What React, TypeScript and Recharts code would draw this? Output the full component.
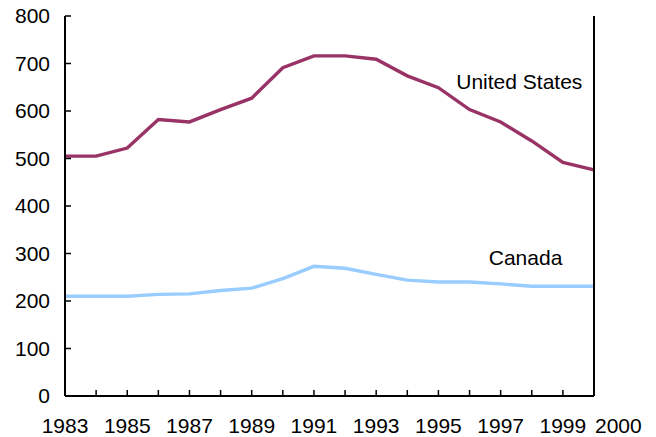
import React from 'react';
import { LineChart, Line, XAxis, YAxis, ReferenceDot } from 'recharts';

const years = [1983, 1984, 1985, 1986, 1987, 1988, 1989, 1990, 1991, 1992, 1993, 1994, 1995, 1996, 1997, 1998, 1999, 2000];
const unitedStates = [505, 505, 522, 582, 577, 603, 627, 691, 716, 716, 709, 674, 649, 603, 577, 537, 492, 476];
const canada = [210, 210, 210, 214, 215, 222, 227, 247, 273, 269, 256, 244, 240, 240, 236, 231, 231, 231];
const xLabelYears = [1983, 1985, 1987, 1989, 1991, 1993, 1995, 1997, 1999, 2000];
const yTicks = [0, 100, 200, 300, 400, 500, 600, 700, 800];

const data = years.map((y, i) => ({ year: y, us: unitedStates[i], ca: canada[i] }));

const FONT = '"Liberation Sans", Arial, Helvetica, sans-serif';
const TICK_LEN = 6;
const X_MARGIN = 22;
const Y_MARGIN = 15;

const XTick = (props: any) => {
  const { x, y, payload } = props;
  const axisY = y - X_MARGIN;
  const show = xLabelYears.includes(payload.value);
  const isLast = payload.value === 2000;
  return (
    <g>
      <line x1={x} x2={x} y1={axisY} y2={axisY - TICK_LEN} stroke="#000" strokeWidth={1.5} />
      {show && (
        <text
          x={isLast ? x + 1 : x}
          y={y}
          dy="0.71em"
          textAnchor={isLast ? 'start' : 'middle'}
          fontSize={21}
          fontFamily={FONT}
          fill="#000"
        >
          {payload.value}
        </text>
      )}
    </g>
  );
};

const YTickLeft = (props: any) => {
  const { x, y, payload } = props;
  const axisX = x + Y_MARGIN;
  return (
    <g>
      <line x1={axisX} x2={axisX + TICK_LEN} y1={y} y2={y} stroke="#000" strokeWidth={1.5} />
      <text x={x} y={y} dy="0.355em" textAnchor="end" fontSize={21} fontFamily={FONT} fill="#000">
        {payload.value}
      </text>
    </g>
  );
};

const YTickRight = (props: any) => {
  const { x, y } = props;
  return <line x1={x} x2={x - TICK_LEN} y1={y} y2={y} stroke="#000" strokeWidth={1.5} />;
};

export default function App() {
  return (
    <div>
      <style>{`.recharts-surface{overflow:visible}`}</style>
      <LineChart width={640} height={429} data={data} margin={{ top: 8, right: 44, bottom: 0, left: 0 }}>
        <XAxis
          xAxisId="top"
          orientation="top"
          dataKey="year"
          type="number"
          domain={[1983, 2000]}
          height={0}
          tick={false}
          tickLine={false}
          axisLine={{ stroke: '#000', strokeWidth: 2 }}
        />
        <XAxis
          dataKey="year"
          type="number"
          domain={[1983, 2000]}
          ticks={years}
          interval={0}
          height={41}
          tickSize={0}
          tickMargin={X_MARGIN}
          tick={<XTick />}
          tickLine={false}
          axisLine={{ stroke: '#000', strokeWidth: 2 }}
        />
        <YAxis
          domain={[0, 800]}
          ticks={yTicks}
          interval={0}
          width={57}
          tickSize={0}
          tickMargin={Y_MARGIN}
          tick={<YTickLeft />}
          tickLine={false}
          axisLine={{ stroke: '#000', strokeWidth: 2 }}
        />
        <YAxis
          yAxisId="right"
          orientation="right"
          domain={[0, 800]}
          ticks={yTicks}
          interval={0}
          width={10}
          tickSize={0}
          tickMargin={0}
          tick={<YTickRight />}
          tickLine={false}
          axisLine={{ stroke: '#000', strokeWidth: 2 }}
        />
        <Line dataKey="us" stroke="#993366" strokeWidth={3.4} dot={false} isAnimationActive={false} />
        <Line dataKey="ca" stroke="#99ccff" strokeWidth={3.4} dot={false} isAnimationActive={false} />
        <ReferenceDot
          x={1997.6}
          y={663}
          r={0}
          fill="none"
          stroke="none"
          label={{ value: 'United States', position: 'center', fontSize: 21, fontFamily: FONT, fill: '#000' }}
        />
        <ReferenceDot
          x={1997.8}
          y={292}
          r={0}
          fill="none"
          stroke="none"
          label={{ value: 'Canada', position: 'center', fontSize: 21, fontFamily: FONT, fill: '#000' }}
        />
      </LineChart>
    </div>
  );
}
